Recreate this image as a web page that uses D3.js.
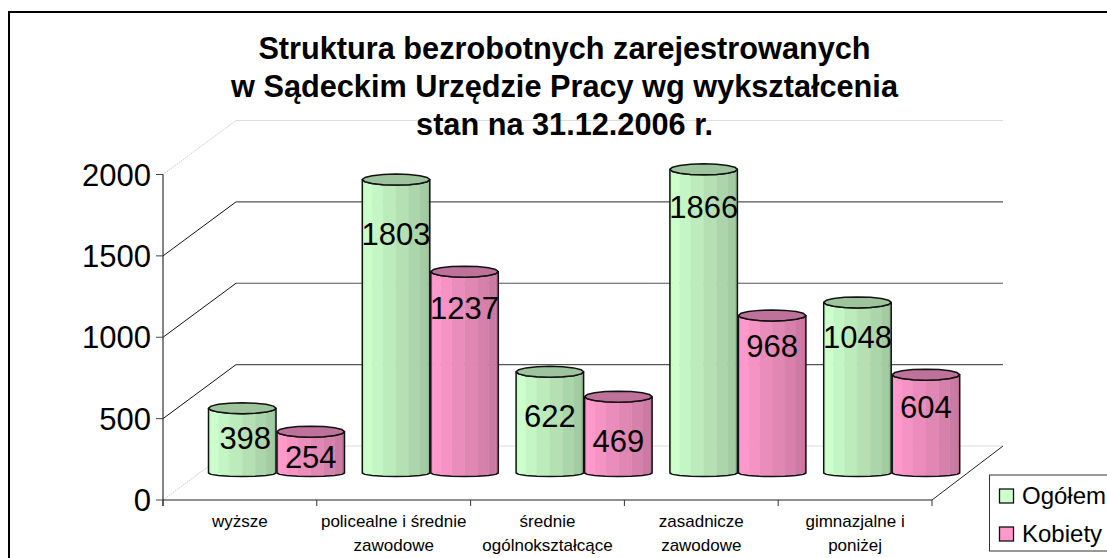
<!DOCTYPE html>
<html><head><meta charset="utf-8">
<script src="https://cdn.jsdelivr.net/npm/d3@7"></script>
<style>html,body{margin:0;padding:0;background:#fff;overflow:hidden}svg{display:block}text{font-family:"Liberation Sans",Arial,sans-serif;fill:#000}</style>
</head><body><svg id="c" width="1107" height="558"></svg>
<script>
const categories = [["wyższe"],["policealne i średnie","zawodowe"],["średnie","ogólnokształcące"],["zasadnicze","zawodowe"],["gimnazjalne i","poniżej"]];
const seriesNames = ["Ogółem","Kobiety"];
const ogolem = [398,1803,622,1866,1048];
const kobiety = [254,1237,469,968,604];
const yTicks = [0,500,1000,1500,2000];
const titleLines = ["Struktura bezrobotnych zarejestrowanych","w Sądeckim Urzędzie Pracy wg wykształcenia","stan na 31.12.2006 r."];
// layout nudges for the data labels (pixels relative to the value position)
const labelNudgeOgolem = [2.7,27,17,11,7.5];
const labelNudgeKobiety = [-2,9,17,3.5,5];
const labelNudgeXOgolem = [3,0,0,0,0];

const colors = [{side:[204,255,204],top:"#9dc49d"},{side:[255,153,204],top:"#bf7299"}];
const shades = [.97,1,.96,.92,.88,.84,.8,.74];
const svg = d3.select("#c");
const x0=163,x1=932,yB=500,yT=174.5,dx=73,dy=-54,depth=27;
const y = d3.scaleLinear().domain([0,2000]).range([yB,yT]);
const xBand = d3.scaleBand().domain(d3.range(categories.length)).range([x0,x1]);
const inner = d3.scaleBand().domain([0,1]).range([45,182]);

// frame
svg.append("path").attr("d","M9,558V12H1107").attr("fill","none").attr("stroke","#000").attr("stroke-width",2);

// walls
yTicks.forEach(t=>{
  const edge = t===0||t===2000;
  svg.append("line").attr("x1",x0).attr("y1",y(t)).attr("x2",x0+dx).attr("y2",y(t)+dy)
    .attr("stroke",edge?"#ccc":"#111").attr("stroke-width",1).attr("stroke-dasharray",edge?"1.5 1":null);
  svg.append("line").attr("x1",x0+dx).attr("y1",y(t)+dy).attr("x2",x1+dx-2).attr("y2",y(t)+dy)
    .attr("stroke",edge?"#ddd":"#555").attr("stroke-width",edge?1:1.2);
  svg.append("line").attr("x1",x0-7).attr("x2",x0).attr("y1",y(t)).attr("y2",y(t)).attr("stroke","#444");
  svg.append("text").attr("x",151).attr("y",y(t)+11).attr("text-anchor","end").attr("font-size",31).text(t);
});
svg.append("line").attr("x1",x0).attr("x2",x0).attr("y1",yT).attr("y2",yB+6).attr("stroke","#333").attr("stroke-width",1.2);
svg.append("line").attr("x1",x0).attr("x2",x1).attr("y1",yB).attr("y2",yB).attr("stroke","#222").attr("stroke-width",1.2);
svg.append("line").attr("x1",x1).attr("x2",x1+dx-2).attr("y1",yB).attr("y2",yB+dy).attr("stroke","#222");
d3.range(categories.length+1).forEach(i=>{
  const px = i<categories.length? xBand(i):x1;
  svg.append("line").attr("x1",px).attr("x2",px).attr("y1",yB).attr("y2",yB+6).attr("stroke","#333");
});

// category labels
categories.forEach((lines,i)=>{
  lines.forEach((l,j)=>svg.append("text").attr("x",xBand(i)+xBand.bandwidth()/2).attr("y",527+j*23.5)
    .attr("text-anchor","middle").attr("font-size",17).text(l));
});

// cylinders
const line = d3.line().x(d=>d[0]).y(d=>d[1]);
const N = shades.length;
function ring(cx,cy,rx,ry,from,to){
  return d3.range(N+1).map(k=>{const a=from+(to-from)*k/N;return [cx-rx*Math.cos(a),cy+ry*Math.sin(a)];});
}
function cylinder(g,i,s,v){
  const bw = inner.bandwidth();
  const cx = xBand(i)+inner(s)+bw/2, rx=bw/2-.5;
  const top = y(v)-depth, base = yB-depth;
  const c = colors[s];
  const tFront = ring(cx,top,rx,5.5,0,Math.PI), bFront = ring(cx,base,rx,3.6,0,Math.PI);
  const tBack = ring(cx,top,rx,5.5,Math.PI,2*Math.PI);
  shades.forEach((f,k)=>{
    const col = d3.rgb(c.side[0]*f,c.side[1]*f,c.side[2]*f);
    g.append("path").attr("d",line([tFront[k],tFront[k+1],bFront[k+1],bFront[k]])+"Z").attr("fill",col).attr("stroke",col).attr("stroke-width",.4);
  });
  g.append("path").attr("d",line([...tFront,...bFront.slice().reverse()])+"Z").attr("fill","none").attr("stroke","#111").attr("stroke-width",1.5).attr("stroke-linejoin","round");
  g.append("path").attr("d",line([...tFront,...tBack])+"Z").attr("fill",c.top).attr("stroke","#111").attr("stroke-width",1.5).attr("stroke-linejoin","round");
}
const barG = svg.append("g");
categories.forEach((_,i)=>{ cylinder(barG,i,0,ogolem[i]); cylinder(barG,i,1,kobiety[i]); });

// data labels
categories.forEach((_,i)=>{
  const bw = inner.bandwidth();
  svg.append("text").attr("x",xBand(i)+inner(0)+bw/2+labelNudgeXOgolem[i]).attr("y",y(ogolem[i])+labelNudgeOgolem[i]+11).attr("text-anchor","middle").attr("font-size",31).text(ogolem[i]);
  svg.append("text").attr("x",xBand(i)+inner(1)+bw/2).attr("y",y(kobiety[i])+labelNudgeKobiety[i]+11).attr("text-anchor","middle").attr("font-size",31).text(kobiety[i]);
});

// title
titleLines.forEach((l,j)=>svg.append("text").attr("x",564.5).attr("y",59+j*38).attr("text-anchor","middle").attr("font-size",30.7).attr("font-weight","bold").text(l));

// legend
const lg = svg.append("g");
lg.append("rect").attr("x",989.5).attr("y",475).attr("width",140).attr("height",76).attr("fill","#fff").attr("stroke","#333").attr("stroke-width",1);
seriesNames.forEach((n,j)=>{
  const ly = 489+j*38;
  lg.append("rect").attr("x",999.5).attr("y",ly).attr("width",14).attr("height",14).attr("fill",d3.rgb(...colors[j].side)).attr("stroke","#111").attr("stroke-width",1.3);
  lg.append("text").attr("x",1022).attr("y",ly+14.5).attr("font-size",24).text(n);
});
</script></body></html>
